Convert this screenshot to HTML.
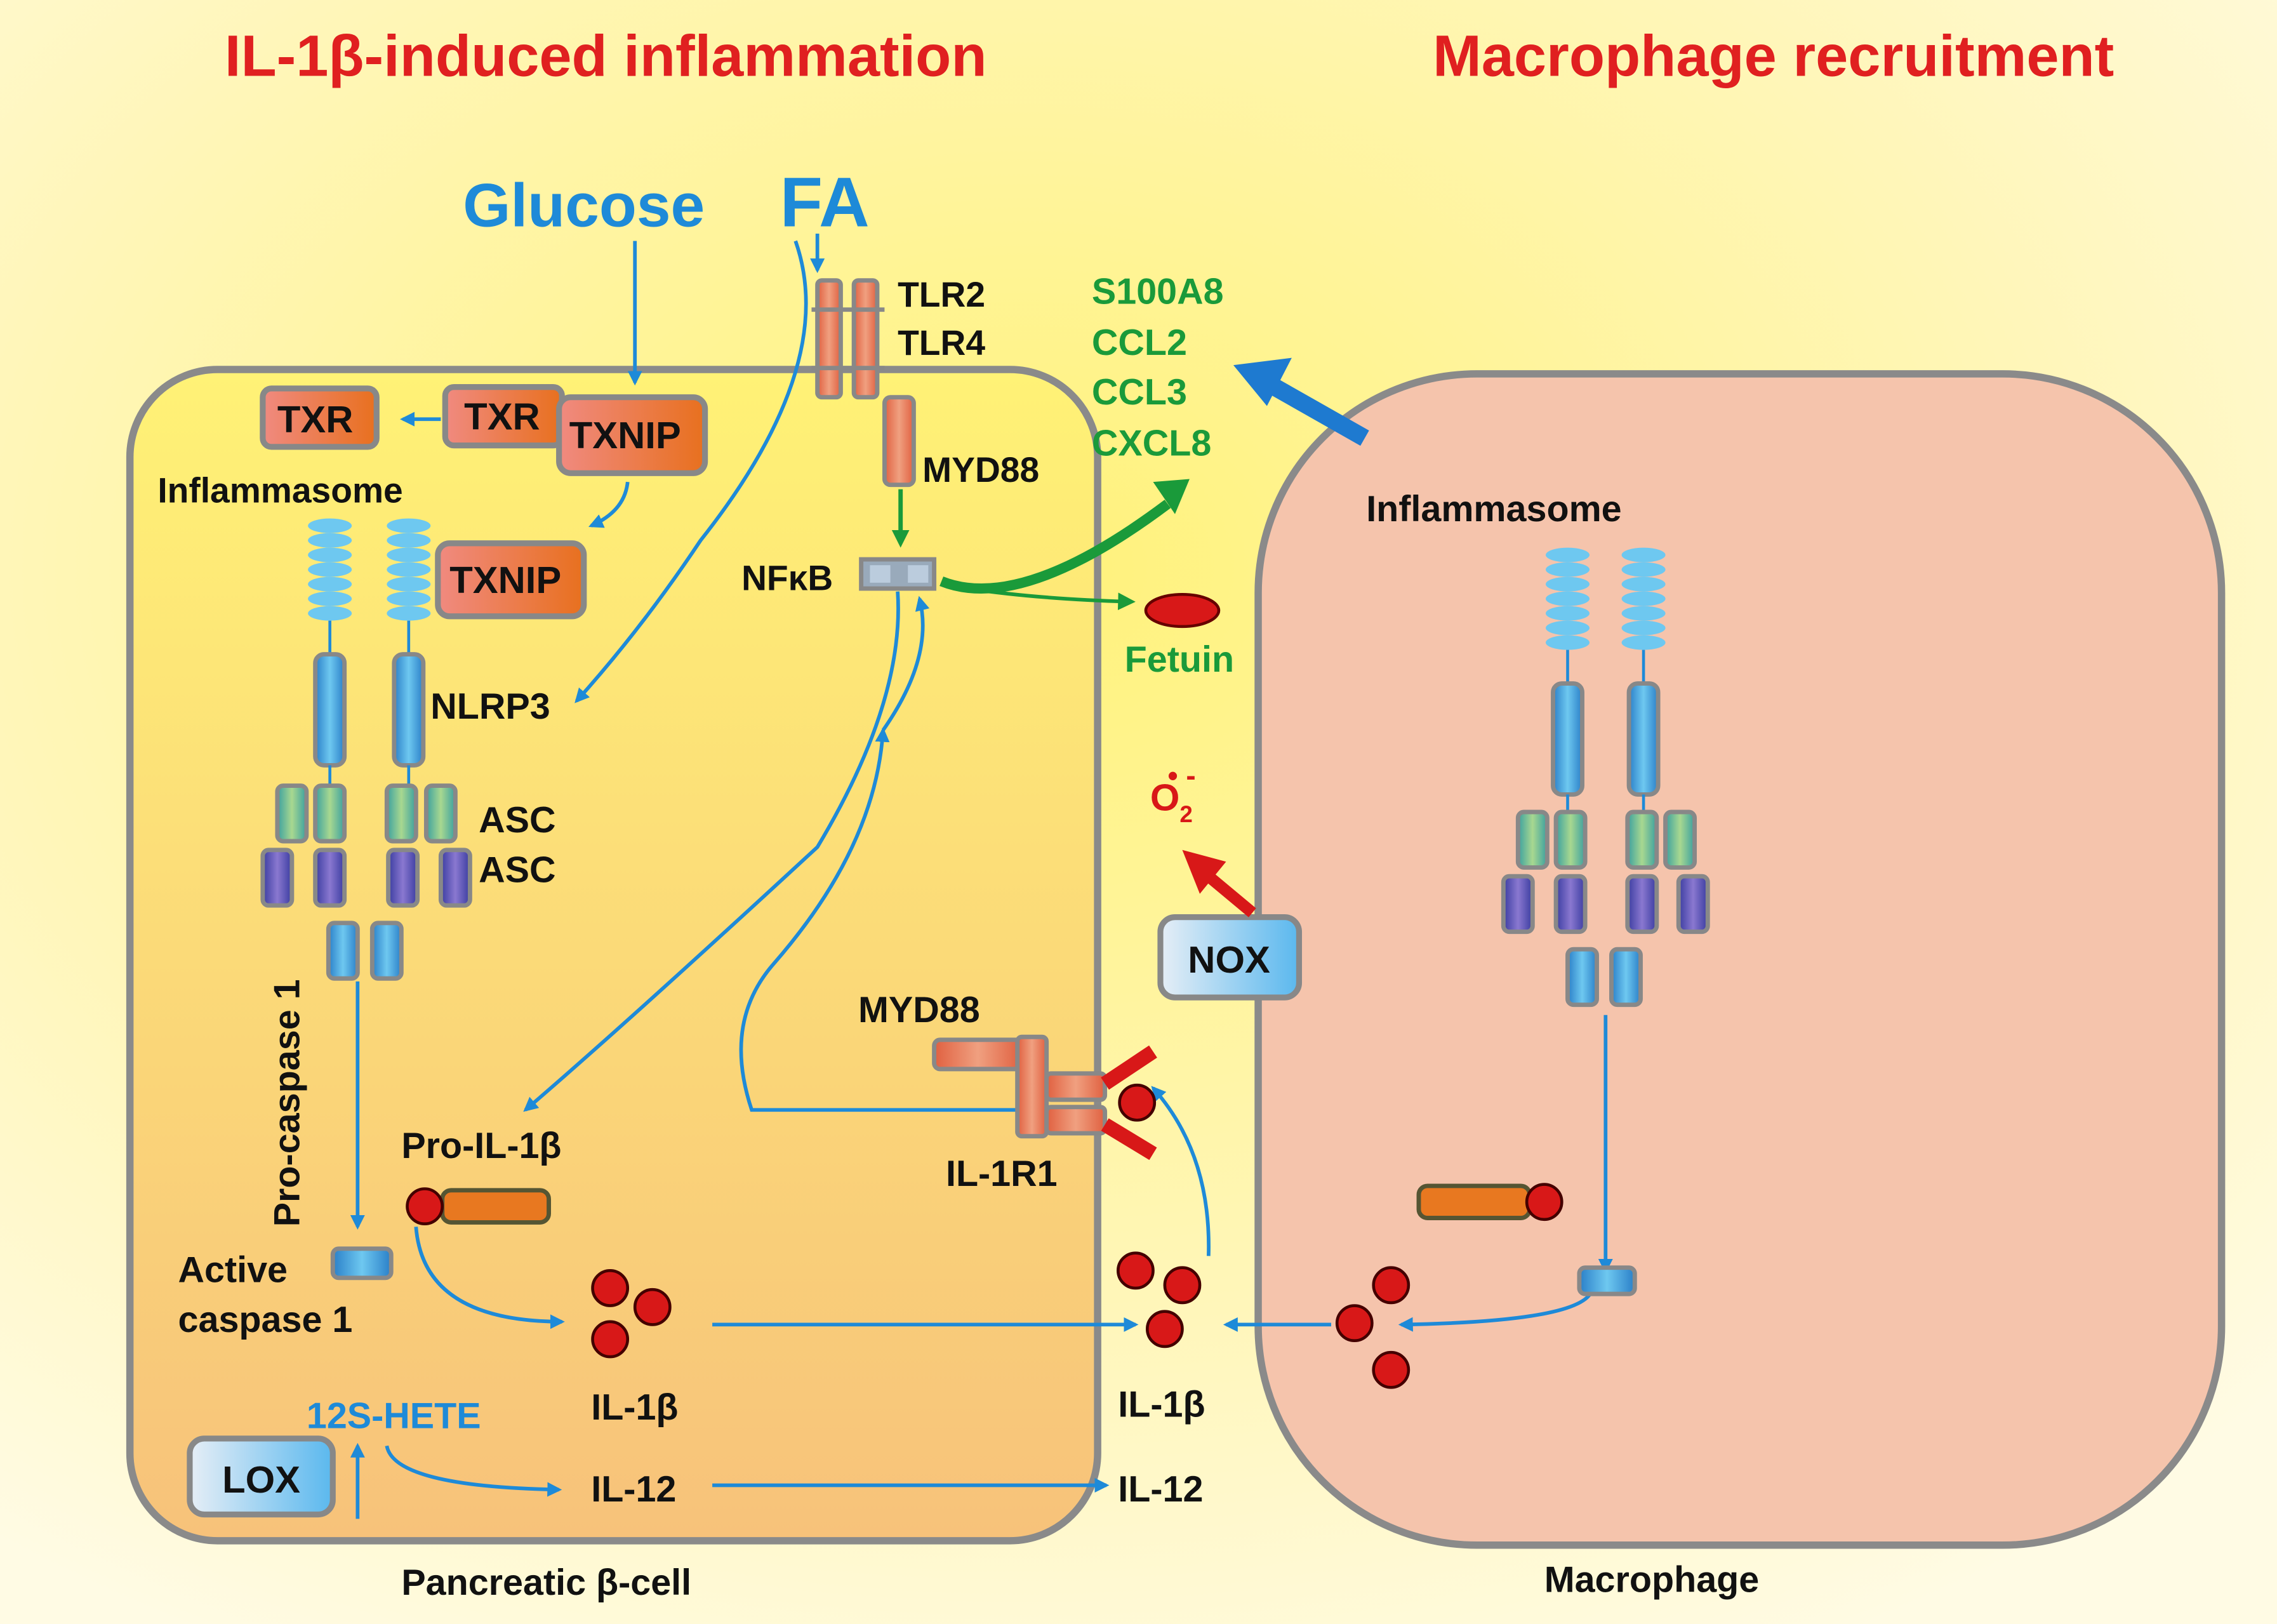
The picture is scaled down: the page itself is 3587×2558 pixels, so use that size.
<!DOCTYPE html>
<html><head><meta charset="utf-8"><style>html,body{margin:0;padding:0;background:#fff}svg{display:block}</style></head><body>
<svg width="3587" height="2558" viewBox="0 0 1560 1112" preserveAspectRatio="none" xmlns="http://www.w3.org/2000/svg" font-family="Liberation Sans, sans-serif" font-weight="bold">
<defs>
<radialGradient id="bg" cx="0.45" cy="0.35" r="0.75"><stop offset="0" stop-color="#fff27a"/><stop offset="0.6" stop-color="#fff6b8"/><stop offset="1" stop-color="#fffbe4"/></radialGradient>
<linearGradient id="cell" x1="0" y1="0" x2="0" y2="1"><stop offset="0" stop-color="#fff276"/><stop offset="1" stop-color="#f7c27a"/></linearGradient>
<linearGradient id="box" x1="0" y1="0" x2="1" y2="0"><stop offset="0" stop-color="#f08a80"/><stop offset="1" stop-color="#e8701e"/></linearGradient>
<linearGradient id="gbox" x1="0" y1="0" x2="1" y2="0"><stop offset="0" stop-color="#e6eef6"/><stop offset="1" stop-color="#5ab8ee"/></linearGradient>
<linearGradient id="rod" x1="0" y1="0" x2="1" y2="0"><stop offset="0" stop-color="#2a7fc8"/><stop offset="0.5" stop-color="#6ec8f0"/><stop offset="1" stop-color="#2a7fc8"/></linearGradient>
<linearGradient id="grn" x1="0" y1="0" x2="1" y2="0"><stop offset="0" stop-color="#3aa0a0"/><stop offset="0.5" stop-color="#a8d890"/><stop offset="1" stop-color="#3aa0a0"/></linearGradient>
<linearGradient id="pur" x1="0" y1="0" x2="1" y2="0"><stop offset="0" stop-color="#3a3ca0"/><stop offset="0.5" stop-color="#8a78d0"/><stop offset="1" stop-color="#3a3ca0"/></linearGradient>
<linearGradient id="tlr" x1="0" y1="0" x2="1" y2="0"><stop offset="0" stop-color="#e06040"/><stop offset="0.5" stop-color="#f0a080"/><stop offset="1" stop-color="#e06040"/></linearGradient>
<marker id="ab" markerWidth="10" markerHeight="10" refX="8" refY="5" orient="auto" markerUnits="userSpaceOnUse"><path d="M0,0 L10,5 L0,10 z" fill="#1e8ad8"/></marker>
<marker id="ag" markerWidth="12" markerHeight="12" refX="9" refY="6" orient="auto" markerUnits="userSpaceOnUse"><path d="M0,0 L12,6 L0,12 z" fill="#1a9a3a"/></marker>
<g id="col">
<g fill="#6ec8f0"><ellipse cx="0" cy="0" rx="15" ry="5"/><ellipse cx="0" cy="10" rx="15" ry="5"/><ellipse cx="0" cy="20" rx="15" ry="5"/><ellipse cx="0" cy="30" rx="15" ry="5"/><ellipse cx="0" cy="40" rx="15" ry="5"/><ellipse cx="0" cy="50" rx="15" ry="5"/><ellipse cx="0" cy="60" rx="15" ry="5"/></g>
<line x1="0" y1="65" x2="0" y2="90" stroke="#1e8ad8" stroke-width="2"/>
<rect x="-10" y="88" width="20" height="76" rx="6" fill="url(#rod)" stroke="#888" stroke-width="3"/>
<line x1="0" y1="164" x2="0" y2="184" stroke="#1e8ad8" stroke-width="2"/>
</g>
</defs>
<rect width="1560" height="1112" fill="url(#bg)"/>
<text x="415" y="52" font-size="40" fill="#e02020" text-anchor="middle">IL-1β-induced inflammation</text>
<text x="1215" y="52" font-size="40" fill="#e02020" text-anchor="middle">Macrophage recruitment</text>
<rect x="89" y="253" width="663" height="802" rx="60" fill="url(#cell)" stroke="#8a8a8a" stroke-width="5"/>
<rect x="862" y="256" width="660" height="802" rx="150" fill="#f5c4ac" stroke="#8a8a8a" stroke-width="5"/>
<text x="400" y="155" font-size="42" fill="#1e8ad8" text-anchor="middle">Glucose</text>
<text x="565" y="155" font-size="48" fill="#1e8ad8" text-anchor="middle">FA</text>
<g stroke="#1e8ad8" stroke-width="2.5" fill="none" marker-end="url(#ab)">
<line x1="435" y1="165" x2="435" y2="262"/>
<line x1="302" y1="287" x2="276" y2="287"/>
<path d="M430,330 Q428,350 405,360"/>
<path d="M545,165 Q575,250 480,370 Q440,430 395,480"/>
<line x1="560" y1="160" x2="560" y2="185"/>
<line x1="245" y1="672" x2="245" y2="840"/>
<path d="M615,405 Q620,480 560,580 Q430,700 360,760"/>
<path d="M700,760 L515,760 Q495,700 530,660 Q600,580 605,500"/>
<path d="M605,500 Q640,450 630,410"/>
<path d="M285,840 Q290,905 385,905"/>
<line x1="488" y1="907" x2="778" y2="907"/>
<line x1="912" y1="907" x2="840" y2="907"/>
<path d="M828,860 Q830,790 790,745"/>
<line x1="1100" y1="695" x2="1100" y2="870"/>
<path d="M1090,885 Q1080,905 960,907"/>
<path d="M265,990 Q270,1018 383,1020"/>
<line x1="488" y1="1017" x2="758" y2="1017"/>
<line x1="245" y1="1040" x2="245" y2="990"/>
</g>
<g stroke="#888" stroke-width="3" fill="url(#tlr)">
<rect x="560" y="192" width="16" height="80" rx="3"/><rect x="585" y="192" width="16" height="80" rx="3"/>
<rect x="606" y="272" width="20" height="60" rx="4"/>
</g>
<line x1="556" y1="212" x2="606" y2="212" stroke="#888" stroke-width="3"/><line x1="556" y1="252" x2="606" y2="252" stroke="#888" stroke-width="3"/>
<text x="615" y="210" font-size="24" fill="#111">TLR2</text>
<text x="615" y="243" font-size="24" fill="#111">TLR4</text>
<text x="632" y="330" font-size="24" fill="#111">MYD88</text>
<line x1="617" y1="335" x2="617" y2="372" stroke="#1a9a3a" stroke-width="3" marker-end="url(#ag)"/>
<rect x="590" y="383" width="50" height="20" fill="#9ab" stroke="#888" stroke-width="3"/>
<rect x="596" y="387" width="14" height="12" fill="#bcd" /><rect x="622" y="387" width="14" height="12" fill="#bcd"/>
<text x="508" y="404" font-size="24" fill="#111">NFκB</text>
<path d="M645,398 Q700,420 800,345" stroke="#1a9a3a" stroke-width="7" fill="none"/>
<path d="M790,330 L815,328 L805,352 z" fill="#1a9a3a"/>
<path d="M645,400 Q700,410 775,412" stroke="#1a9a3a" stroke-width="2.5" fill="none" marker-end="url(#ag)"/>
<ellipse cx="810" cy="418" rx="25" ry="11" fill="#d81818" stroke="#600" stroke-width="2"/>
<text x="808" y="460" font-size="25" fill="#1a9a3a" text-anchor="middle">Fetuin</text>
<g font-size="25" fill="#1a9a3a"><text x="748" y="208">S100A8</text><text x="748" y="243">CCL2</text><text x="748" y="277">CCL3</text><text x="748" y="312">CXCL8</text></g>
<line x1="935" y1="300" x2="868" y2="262" stroke="#1e7ad0" stroke-width="12"/>
<path d="M845,250 L885,245 L868,278 z" fill="#1e7ad0"/>
<g stroke="#888" stroke-width="4" fill="url(#box)">
<rect x="180" y="266" width="78" height="40" rx="6"/>
<rect x="305" y="265" width="80" height="40" rx="6"/>
<rect x="383" y="272" width="100" height="52" rx="8"/>
<rect x="300" y="372" width="100" height="50" rx="8"/>
</g>
<g font-size="26" fill="#111"><text x="190" y="296">TXR</text><text x="318" y="294">TXR</text><text x="390" y="307">TXNIP</text><text x="308" y="406">TXNIP</text></g>
<text x="108" y="344" font-size="24" fill="#111">Inflammasome</text>
<use href="#col" x="226" y="360"/><use href="#col" x="280" y="360"/>
<g stroke="#888" stroke-width="3">
<rect x="190" y="538" width="20" height="38" rx="4" fill="url(#grn)"/><rect x="216" y="538" width="20" height="38" rx="4" fill="url(#grn)"/>
<rect x="265" y="538" width="20" height="38" rx="4" fill="url(#grn)"/><rect x="292" y="538" width="20" height="38" rx="4" fill="url(#grn)"/>
<rect x="180" y="582" width="20" height="38" rx="4" fill="url(#pur)"/><rect x="216" y="582" width="20" height="38" rx="4" fill="url(#pur)"/>
<rect x="266" y="582" width="20" height="38" rx="4" fill="url(#pur)"/><rect x="302" y="582" width="20" height="38" rx="4" fill="url(#pur)"/>
<rect x="225" y="632" width="20" height="38" rx="4" fill="url(#rod)"/><rect x="255" y="632" width="20" height="38" rx="4" fill="url(#rod)"/>
</g>
<g font-size="25" fill="#111"><text x="295" y="492">NLRP3</text><text x="328" y="570">ASC</text><text x="328" y="604">ASC</text>
<text x="205" y="840" transform="rotate(-90 205 840)">Pro-caspase 1</text>
<text x="122" y="878">Active</text><text x="122" y="912">caspase 1</text>
<text x="275" y="793">Pro-IL-1β</text>
<text x="405" y="972">IL-1β</text><text x="405" y="1028">IL-12</text>
<text x="766" y="970">IL-1β</text><text x="766" y="1028">IL-12</text>
<text x="588" y="700">MYD88</text><text x="648" y="812">IL-1R1</text>
<text x="936" y="357">Inflammasome</text>
<text x="275" y="1092">Pancreatic β-cell</text><text x="1058" y="1090">Macrophage</text>
</g>
<rect x="228" y="855" width="40" height="20" rx="4" fill="url(#rod)" stroke="#888" stroke-width="3"/>
<rect x="303" y="815" width="73" height="22" rx="6" fill="#e87820" stroke="#553" stroke-width="3"/>
<circle cx="291" cy="826" r="12" fill="#d81818" stroke="#400" stroke-width="2"/>
<g fill="#d81818" stroke="#400" stroke-width="2">
<circle cx="418" cy="882" r="12"/><circle cx="447" cy="895" r="12"/><circle cx="418" cy="917" r="12"/>
<circle cx="778" cy="870" r="12"/><circle cx="810" cy="880" r="12"/><circle cx="798" cy="910" r="12"/>
<circle cx="953" cy="880" r="12"/><circle cx="928" cy="906" r="12"/><circle cx="953" cy="938" r="12"/>
</g>
<g stroke="#888" stroke-width="3" fill="url(#tlr)">
<rect x="640" y="712" width="60" height="20" rx="4"/>
<rect x="697" y="710" width="20" height="68" rx="3"/>
<rect x="717" y="735" width="40" height="18" rx="3"/><rect x="717" y="758" width="40" height="18" rx="3"/>
</g>
<path d="M757,742 L790,720 M757,770 L790,790" stroke="#d81818" stroke-width="10"/>
<circle cx="779" cy="755" r="12" fill="#d81818" stroke="#400" stroke-width="2"/>
<rect x="972" y="812" width="76" height="22" rx="6" fill="#e87820" stroke="#553" stroke-width="3"/>
<circle cx="1058" cy="823" r="12" fill="#d81818" stroke="#400" stroke-width="2"/>
<rect x="1082" y="868" width="38" height="18" rx="4" fill="url(#rod)" stroke="#888" stroke-width="3"/>
<use href="#col" x="1074" y="380"/><use href="#col" x="1126" y="380"/>
<g stroke="#888" stroke-width="3">
<rect x="1040" y="556" width="20" height="38" rx="4" fill="url(#grn)"/><rect x="1066" y="556" width="20" height="38" rx="4" fill="url(#grn)"/>
<rect x="1115" y="556" width="20" height="38" rx="4" fill="url(#grn)"/><rect x="1141" y="556" width="20" height="38" rx="4" fill="url(#grn)"/>
<rect x="1030" y="600" width="20" height="38" rx="4" fill="url(#pur)"/><rect x="1066" y="600" width="20" height="38" rx="4" fill="url(#pur)"/>
<rect x="1115" y="600" width="20" height="38" rx="4" fill="url(#pur)"/><rect x="1150" y="600" width="20" height="38" rx="4" fill="url(#pur)"/>
<rect x="1074" y="650" width="20" height="38" rx="4" fill="url(#rod)"/><rect x="1104" y="650" width="20" height="38" rx="4" fill="url(#rod)"/>
</g>
<rect x="795" y="628" width="95" height="55" rx="10" fill="url(#gbox)" stroke="#888" stroke-width="4"/>
<text x="842" y="666" font-size="26" fill="#111" text-anchor="middle">NOX</text>
<line x1="858" y1="625" x2="828" y2="600" stroke="#d81818" stroke-width="8"/>
<path d="M810,582 L840,590 L822,612 z" fill="#d81818"/>
<text x="788" y="555" font-size="26" fill="#d81818">O<tspan font-size="16" dy="8">2</tspan></text>
<text x="800" y="538" font-size="20" fill="#d81818">• -</text>
<rect x="130" y="985" width="98" height="52" rx="10" fill="url(#gbox)" stroke="#888" stroke-width="4"/>
<text x="179" y="1022" font-size="26" fill="#111" text-anchor="middle">LOX</text>
<text x="210" y="978" font-size="25" fill="#1e8ad8">12S-HETE</text>
</svg>
</body></html>
